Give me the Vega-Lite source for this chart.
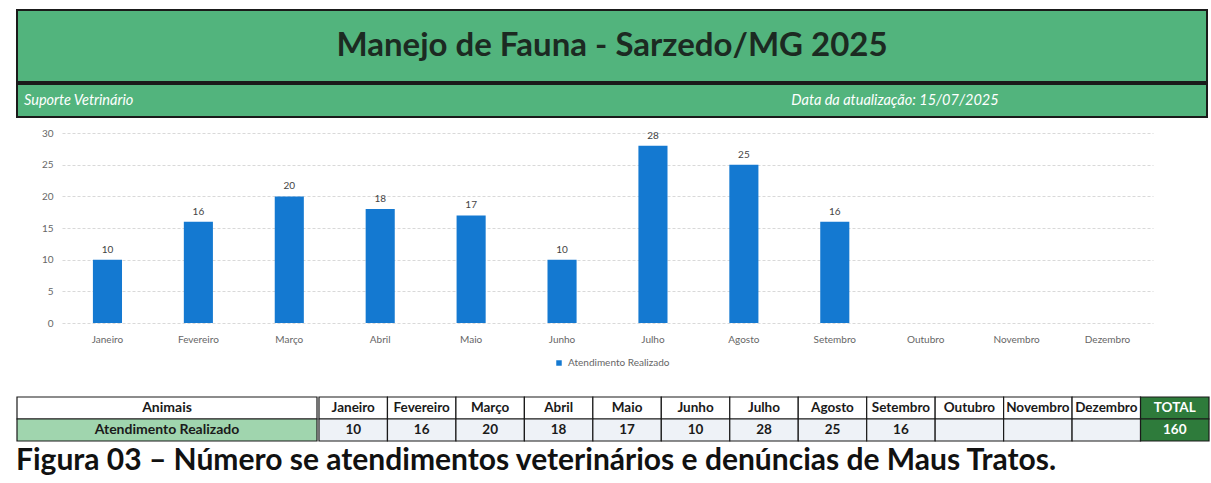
{
  "$schema": "https://vega.github.io/schema/vega-lite/v6.json",
  "background": "white",
  "padding": {"left": 16, "top": 9, "right": 4, "bottom": 0},
  "datasets": {
    "dados": [
      {"mes": "Janeiro", "atendimentos": 10},
      {"mes": "Fevereiro", "atendimentos": 16},
      {"mes": "Março", "atendimentos": 20},
      {"mes": "Abril", "atendimentos": 18},
      {"mes": "Maio", "atendimentos": 17},
      {"mes": "Junho", "atendimentos": 10},
      {"mes": "Julho", "atendimentos": 28},
      {"mes": "Agosto", "atendimentos": 25},
      {"mes": "Setembro", "atendimentos": 16},
      {"mes": "Outubro", "atendimentos": null},
      {"mes": "Novembro", "atendimentos": null},
      {"mes": "Dezembro", "atendimentos": null},
      {"mes": "TOTAL", "atendimentos": 160}
    ],
    "cabecalho": [
      {"titulo": "Manejo de Fauna - Sarzedo/MG 2025", "subtitulo": "Suporte Vetrinário", "atualizacao": "Data da atualização: 15/07/2025"}
    ],
    "linhas": [
      {"linha": "Animais"},
      {"linha": "Atendimento Realizado"}
    ]
  },
  "title": {
    "text": "Figura 03 – Número se atendimentos veterinários e denúncias de Maus Tratos.",
    "orient": "bottom",
    "anchor": "start",
    "frame": "bounds",
    "font": "Lato",
    "fontSize": 30,
    "fontWeight": "bold",
    "color": "#111111",
    "offset": 4
  },
  "spacing": 0,
  "vconcat": [
    {
      "width": 1190,
      "height": 72,
      "data": {"name": "cabecalho"},
      "view": {"fill": "#52b47d", "stroke": "#1a1a1a", "strokeWidth": 2},
      "mark": {"type": "text", "font": "Lato", "fontSize": 33, "fontWeight": "bold", "color": "#1c2a22"},
      "encoding": {"text": {"field": "titulo"}}
    },
    {
      "width": 1190,
      "height": 33,
      "data": {"name": "cabecalho"},
      "view": {"fill": "#52b47d", "stroke": "#1a1a1a", "strokeWidth": 2},
      "transform": [
        {"fold": ["subtitulo", "atualizacao"], "as": ["chave", "texto"]}
      ],
      "encoding": {
        "x": {"field": "chave", "type": "nominal", "scale": {"type": "point", "domain": ["subtitulo", "atualizacao"], "padding": 0.1777, "align": 0}, "axis": null},
        "text": {"field": "texto"}
      },
      "layer": [
        {
          "transform": [{"filter": "datum.chave === 'subtitulo'"}],
          "mark": {"type": "text", "align": "left", "dx": 7, "font": "Lato", "fontSize": 14.5, "fontStyle": "italic", "color": "#ffffff"}
        },
        {
          "transform": [{"filter": "datum.chave === 'atualizacao'"}],
          "mark": {"type": "text", "align": "center", "font": "Lato", "fontSize": 14.5, "fontStyle": "italic", "color": "#ffffff"}
        }
      ]
    },
    {
      "spacing": 52,
      "vconcat": [
        {
          "width": 1190,
          "height": 205,
          "data": {"name": "dados"},
          "transform": [{"filter": "datum.mes !== 'TOTAL'"}],
          "encoding": {
            "x": {
              "field": "mes", "type": "nominal", "sort": null,
              "scale": {"domain": ["Janeiro", "Fevereiro", "Março", "Abril", "Maio", "Junho", "Julho", "Agosto", "Setembro", "Outubro", "Novembro", "Dezembro"], "range": [45, 1136], "paddingInner": 0.68, "paddingOuter": 0.34},
              "axis": {"title": null, "labelAngle": 0, "domain": false, "ticks": false, "labelPadding": 11, "labelFont": "Lato", "labelFontSize": 10, "labelColor": "#666666"}
            },
            "y": {
              "field": "atendimentos", "type": "quantitative",
              "scale": {"domain": [0, 32.4], "nice": false},
              "axis": {"title": null, "values": [0, 5, 10, 15, 20, 25, 30], "offset": -45, "domain": false, "ticks": false, "labelPadding": 9, "labelFont": "Lato", "labelFontSize": 10, "labelColor": "#666666", "gridColor": "#d9d9d9", "gridDash": [3, 2]}
            }
          },
          "layer": [
            {
              "mark": {"type": "bar"},
              "encoding": {
                "color": {
                  "datum": "Atendimento Realizado", "type": "nominal",
                  "scale": {"range": ["#1479d1"]},
                  "legend": {"title": null, "orient": "none", "legendX": 537, "legendY": 348, "padding": 0, "symbolType": "square", "symbolSize": 30, "labelFont": "Lato", "labelFontSize": 10, "labelColor": "#666666"}
                }
              }
            },
            {
              "transform": [{"filter": "isValid(datum.atendimentos)"}],
              "mark": {"type": "text", "baseline": "bottom", "dy": -5, "font": "Lato", "fontSize": 10, "color": "#444444"},
              "encoding": {"text": {"field": "atendimentos", "type": "quantitative"}}
            }
          ]
        },
        {
          "spacing": 0,
          "hconcat": [
            {
              "width": 300,
              "height": 44,
              "data": {"name": "linhas"},
              "encoding": {
                "y": {"field": "linha", "type": "nominal", "sort": null, "axis": null, "scale": {"paddingInner": 0, "paddingOuter": 0}}
              },
              "layer": [
                {
                  "mark": {"type": "rect", "stroke": "#1a1a1a", "strokeWidth": 1.2},
                  "encoding": {
                    "fill": {"field": "linha", "type": "nominal", "sort": null, "scale": {"range": ["#ffffff", "#a0d5ae"]}, "legend": null}
                  }
                },
                {
                  "mark": {"type": "text", "font": "Lato", "fontSize": 14, "fontWeight": "bold", "color": "#1a1a1a"},
                  "encoding": {"text": {"field": "linha"}}
                }
              ]
            },
            {
              "width": 890,
              "height": 44,
              "data": {"name": "dados"},
              "encoding": {
                "x": {"field": "mes", "type": "nominal", "sort": null, "axis": null, "scale": {"paddingInner": 0, "paddingOuter": 0}}
              },
              "layer": [
                {
                  "mark": {"type": "rect", "stroke": "#1a1a1a", "strokeWidth": 1.2},
                  "encoding": {
                    "y": {"datum": "cab", "type": "nominal", "axis": null, "scale": {"domain": ["cab", "val"], "paddingInner": 0, "paddingOuter": 0}},
                    "fill": {"condition": {"test": "datum.mes === 'TOTAL'", "value": "#2e7b3b"}, "value": "#ffffff"}
                  }
                },
                {
                  "mark": {"type": "rect", "stroke": "#1a1a1a", "strokeWidth": 1.2},
                  "encoding": {
                    "y": {"datum": "val", "type": "nominal"},
                    "fill": {"condition": {"test": "datum.mes === 'TOTAL'", "value": "#2e7b3b"}, "value": "#eef2f7"}
                  }
                },
                {
                  "mark": {"type": "text", "font": "Lato", "fontSize": 13.5, "fontWeight": "bold"},
                  "encoding": {
                    "y": {"datum": "cab", "type": "nominal"},
                    "text": {"field": "mes"},
                    "color": {"condition": {"test": "datum.mes === 'TOTAL'", "value": "#ffffff"}, "value": "#1a1a1a"}
                  }
                },
                {
                  "transform": [{"filter": "isValid(datum.atendimentos)"}],
                  "mark": {"type": "text", "font": "Lato", "fontSize": 13.5, "fontWeight": "bold"},
                  "encoding": {
                    "y": {"datum": "val", "type": "nominal"},
                    "text": {"field": "atendimentos", "type": "quantitative"},
                    "color": {"condition": {"test": "datum.mes === 'TOTAL'", "value": "#ffffff"}, "value": "#1a1a1a"}
                  }
                }
              ]
            }
          ]
        }
      ]
    }
  ],
  "config": {
    "view": {"stroke": null},
    "font": "Lato"
  }
}
